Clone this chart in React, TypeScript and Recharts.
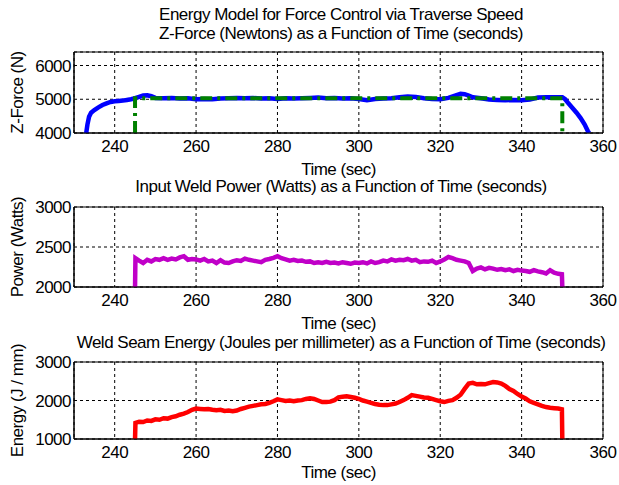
import { CartesianGrid, Line, LineChart, ReferenceArea, XAxis, YAxis } from "recharts";

const FONT = '"Liberation Sans", Arial, sans-serif';

const mainTitle = "Energy Model for Force Control via Traverse Speed";
const forceTitle = "Z-Force (Newtons) as a Function of Time (seconds)";
const powerTitle = "Input Weld Power (Watts) as a Function of Time (seconds)";
const energyTitle = "Weld Seam Energy (Joules per millimeter) as a Function of Time (seconds)";
const xLabel = "Time (sec)";

const timeTicks = [240, 260, 280, 300, 320, 340, 360];
const forceTicks = [4000, 5000, 6000];
const powerTicks = [2000, 2500, 3000];
const energyTicks = [1000, 2000, 3000];

// measured z-force (blue)
const forceTime = [
	233, 233.3, 233.7, 234.2, 235, 236, 237, 238, 239, 240, 241, 242, 243, 244, 245, 246, 247, 248, 249, 250,
	252, 254, 256, 258, 260, 262, 264, 266, 268, 270, 272, 274, 276, 278, 280, 282, 284, 286, 288, 290,
	292, 294, 296, 298, 300, 302, 304, 306, 308, 310, 312, 314, 316, 318, 320, 322, 324, 325, 326, 327,
	328, 330, 332, 334, 336, 338, 340, 342, 344, 346, 348, 350, 350.7, 351.5, 352.5, 353.5, 354.5, 355.5, 356.3, 356.6,
];
const forceValues = [
	4000, 4250, 4480, 4600, 4680, 4760, 4830, 4880, 4920, 4940, 4950, 4960, 4980, 5000, 5030, 5070, 5110, 5120, 5090, 5040,
	5030, 5040, 5020, 5030, 5000, 5010, 5000, 5020, 5030, 5040, 5030, 5040, 5020, 5030, 5010, 5030, 5020, 5030, 5040, 5050,
	5030, 5040, 5020, 5030, 5010, 4970, 5010, 5020, 5030, 5060, 5080, 5070, 5030, 5010, 5000, 5040, 5120, 5160, 5150, 5110,
	5060, 5030, 4990, 4980, 4970, 4980, 4970, 4990, 5050, 5060, 5060, 5060, 5000, 4880, 4740, 4600, 4440, 4250, 4050, 4000,
];

// commanded force (green)
const targetTime = [245, 245, 350, 350];
const targetValues = [4000, 5030, 5030, 4000];

const powerTime = [
	245, 245.1, 246, 247, 248, 249, 250, 251, 252, 253, 254, 255, 256, 257, 258, 259, 260, 261, 262, 263,
	264, 265, 266, 267, 268, 269, 270, 271, 272, 273, 274, 275, 276, 277, 278, 279, 280, 281, 282, 283,
	284, 285, 286, 287, 288, 289, 290, 291, 292, 293, 294, 295, 296, 297, 298, 299, 300, 301, 302, 303,
	304, 305, 306, 307, 308, 309, 310, 311, 312, 313, 314, 315, 316, 317, 318, 319, 320, 321, 322, 323,
	324, 325, 326, 327, 328, 329, 330, 331, 332, 333, 334, 335, 336, 337, 338, 339, 340, 341, 342, 343,
	344, 345, 346, 347, 348, 349, 349.9, 350,
];
const powerValues = [
	2000, 2360, 2330, 2300, 2340, 2320, 2350, 2340, 2360, 2340, 2355, 2345, 2370, 2385, 2340, 2350, 2345, 2330, 2350, 2320,
	2330, 2300, 2335, 2305, 2300, 2320, 2335, 2325, 2355, 2340, 2330, 2320, 2310, 2340, 2350, 2365, 2385, 2360, 2345, 2330,
	2340, 2325, 2330, 2315, 2320, 2300, 2310, 2300, 2315, 2300, 2305, 2295, 2310, 2300, 2290, 2305, 2300, 2310, 2295, 2320,
	2300, 2310, 2330, 2320, 2345, 2330, 2340, 2335, 2350, 2330, 2340, 2310, 2320, 2315, 2330, 2300, 2320, 2345, 2375, 2360,
	2340, 2330, 2320, 2300, 2200, 2230, 2245, 2220, 2240, 2230, 2215, 2225, 2210, 2220, 2200, 2215, 2205, 2200, 2190, 2210,
	2195, 2185, 2170, 2210, 2180, 2165, 2160, 2000,
];

const energyTime = powerTime;
const energyValues = [
	1000, 1420, 1450, 1440, 1480, 1470, 1510, 1500, 1540, 1530, 1570, 1590, 1630, 1660, 1700, 1760, 1790, 1780, 1770, 1780,
	1760, 1750, 1760, 1730, 1740, 1720, 1740, 1780, 1810, 1840, 1860, 1880, 1900, 1910, 1940, 1980, 2030, 2010, 1990, 2000,
	1980, 2000, 2010, 2040, 2060, 2040, 2000, 1960, 1960, 1970, 2010, 2080, 2100, 2110, 2090, 2070, 2040, 2000, 1970, 1940,
	1910, 1890, 1880, 1880, 1900, 1920, 1960, 2010, 2070, 2140, 2120, 2100, 2080, 2070, 2040, 2010, 1980, 1960, 1990, 2010,
	2070, 2150, 2300, 2440, 2460, 2420, 2430, 2420, 2450, 2480, 2470, 2440, 2380, 2300, 2250, 2170, 2100, 2050, 1980, 1940,
	1900, 1860, 1830, 1810, 1800, 1790, 1770, 1000,
];

const zip = (ts: number[], vs: number[]) => ts.map((t, i) => ({ t, v: vs[i] }));

const forceData = zip(forceTime, forceValues);
const targetData = zip(targetTime, targetValues);
const powerData = zip(powerTime, powerValues);
const energyData = zip(energyTime, energyValues);

const FS = 17;
const LS = -0.5;

const tickStyle = { fontSize: FS, fill: "#000", fontFamily: FONT, letterSpacing: LS };

const yLabel = (text: string) => (props: any) => {
	const vb = props.viewBox;
	const cy = vb.y + vb.height / 2;
	return (
		<text
			x={17}
			y={cy}
			transform={`rotate(-90 17 ${cy})`}
			textAnchor="middle"
			dominantBaseline="central"
			fontSize={FS}
			fontFamily={FONT}
			letterSpacing={LS}
			fill="#000"
		>
			{text}
		</text>
	);
};

const xLabelAt = (dy: number) => (props: any) => {
	const vb = props.viewBox;
	return (
		<text
			x={vb.x + vb.width / 2}
			y={vb.y + dy}
			textAnchor="middle"
			dominantBaseline="central"
			fontSize={FS}
			fontFamily={FONT}
			letterSpacing={LS}
			fill="#000"
		>
			{xLabel}
		</text>
	);
};

interface PanelProps {
	top: number;
	height: number;
	marginTop: number;
	axisHeight: number;
	labelOffset: number;
	domain: [number, number];
	ticks: number[];
	yTitle: string;
	children: React.ReactNode;
}

function Panel({ top, height, marginTop, axisHeight, labelOffset, domain, ticks, yTitle, children }: PanelProps) {
	return (
		<div style={{ position: "absolute", left: 0, top }}>
			<LineChart width={619} height={height} margin={{ top: marginTop, right: 16, bottom: 0, left: 0 }}>
				<CartesianGrid stroke="#000" strokeDasharray="3 3" strokeWidth={1} />
				<XAxis
					type="number"
					dataKey="t"
					domain={[230, 360]}
					ticks={timeTicks}
					allowDataOverflow
					height={axisHeight}
					tick={tickStyle}
					tickLine={false}
					tickSize={0}
					tickMargin={7}
					axisLine={{ stroke: "#000" }}
					label={xLabelAt(labelOffset)}
				/>
				<YAxis
					type="number"
					domain={domain}
					ticks={ticks}
					allowDataOverflow
					width={74}
					tick={tickStyle}
					tickLine={false}
					tickSize={0}
					tickMargin={3}
					axisLine={{ stroke: "#000" }}
					label={yLabel(yTitle)}
				/>
				<ReferenceArea x1={230} x2={360} y1={domain[0]} y2={domain[1]} fill="none" stroke="#000" strokeWidth={1} />
				{children}
			</LineChart>
		</div>
	);
}

const titleStyle = (cy: number): React.CSSProperties => ({
	position: "absolute",
	left: 341,
	top: cy - 10,
	transform: "translateX(-50%)",
	whiteSpace: "nowrap",
	fontFamily: FONT,
	fontSize: FS,
	lineHeight: "20px",
	letterSpacing: LS,
	color: "#000",
});

export default function App() {
	return (
		<div style={{ position: "absolute", left: 0, top: 0, width: 619, height: 485, background: "#fff", overflow: "hidden" }}>
			<Panel top={0} height={185} marginTop={52} axisHeight={52} labelOffset={36} domain={[4000, 6400]} ticks={forceTicks} yTitle="Z-Force (N)">
				<Line data={forceData} dataKey="v" stroke="#0000ff" strokeWidth={4.5} dot={false} type="linear" isAnimationActive={false} />
				<Line
					data={targetData}
					dataKey="v"
					stroke="#008000"
					strokeWidth={4}
					strokeDasharray="12 5 3 5"
					dot={false}
					type="linear"
					isAnimationActive={false}
				/>
			</Panel>
			<Panel top={160} height={185} marginTop={47} axisHeight={58} labelOffset={36} domain={[2000, 3000]} ticks={powerTicks} yTitle="Power (Watts)">
				<Line data={powerData} dataKey="v" stroke="#c000c8" strokeWidth={4.5} dot={false} type="linear" isAnimationActive={false} />
			</Panel>
			<Panel top={320} height={165} marginTop={42} axisHeight={46} labelOffset={33} domain={[1000, 3000]} ticks={energyTicks} yTitle="Energy (J / mm)">
				<Line data={energyData} dataKey="v" stroke="#ff0000" strokeWidth={4.5} dot={false} type="linear" isAnimationActive={false} />
			</Panel>
			<div style={titleStyle(15)}>{mainTitle}</div>
			<div style={titleStyle(34)}>{forceTitle}</div>
			<div style={titleStyle(187)}>{powerTitle}</div>
			<div style={titleStyle(343)}>{energyTitle}</div>
		</div>
	);
}
